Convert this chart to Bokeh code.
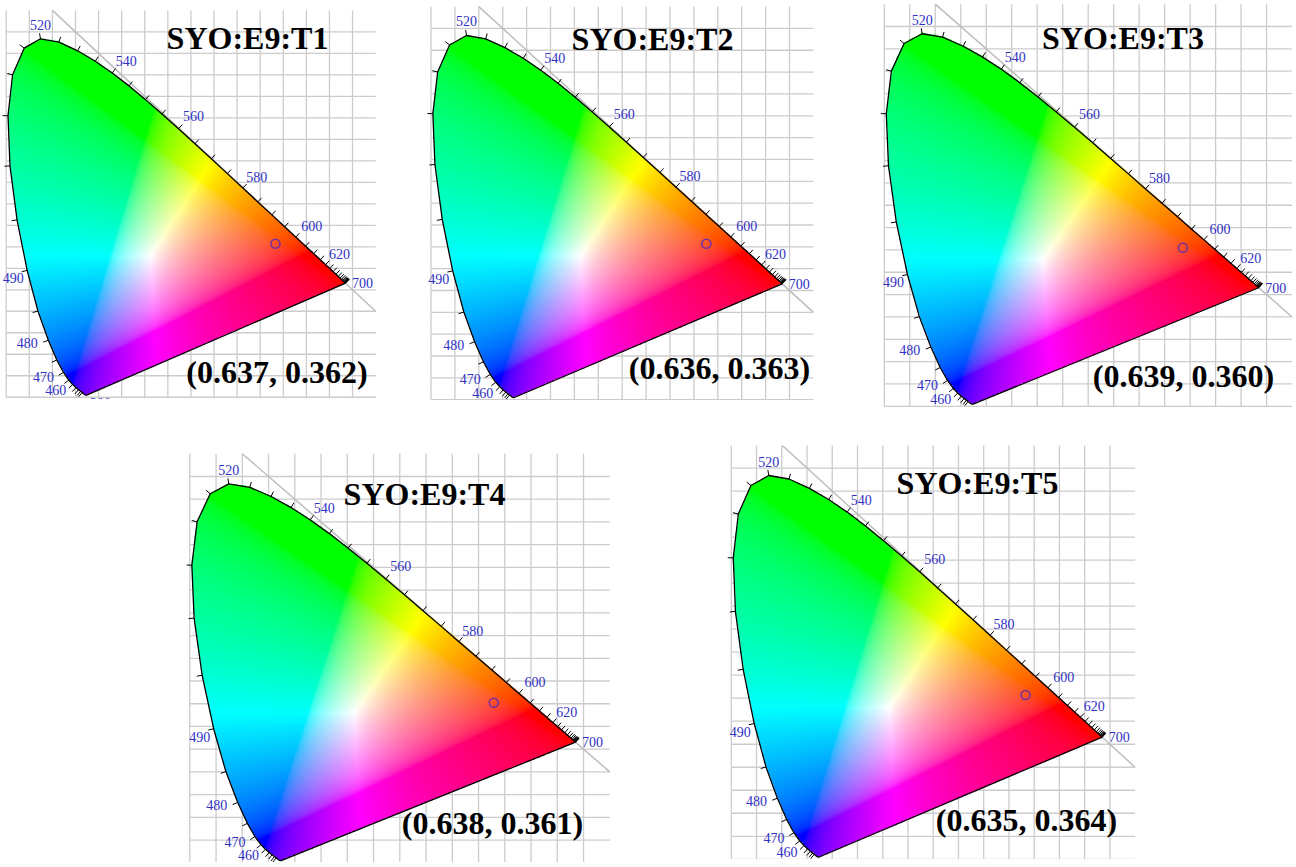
import numpy as np
from bokeh.plotting import figure
from bokeh.layouts import row, column
from bokeh.models import Spacer, Range1d, ColumnDataSource, Label
from bokeh.embed import file_html
from bokeh.resources import INLINE
from bokeh.core.properties import value

# ---------------- data ----------------
# CIE 1931 2-degree spectral locus, 380-700 nm every 5 nm
wavelengths = list(range(380, 705, 5))
locus_x = [0.1741, 0.1740, 0.1738, 0.1736, 0.1733, 0.1730, 0.1726, 0.1721, 0.1714, 0.1703,
           0.1689, 0.1669, 0.1644, 0.1611, 0.1566, 0.1510, 0.1440, 0.1355, 0.1241, 0.1096,
           0.0913, 0.0687, 0.0454, 0.0235, 0.0082, 0.0039, 0.0139, 0.0389, 0.0743, 0.1142,
           0.1547, 0.1929, 0.2296, 0.2658, 0.3016, 0.3373, 0.3731, 0.4087, 0.4441, 0.4788,
           0.5125, 0.5448, 0.5752, 0.6029, 0.6270, 0.6482, 0.6658, 0.6801, 0.6915, 0.7006,
           0.7079, 0.7140, 0.7190, 0.7230, 0.7260, 0.7283, 0.7300, 0.7311, 0.7320, 0.7327,
           0.7334, 0.7340, 0.7344, 0.7346, 0.7347]
locus_y = [0.0050, 0.0050, 0.0049, 0.0049, 0.0048, 0.0048, 0.0048, 0.0048, 0.0051, 0.0058,
           0.0069, 0.0086, 0.0109, 0.0138, 0.0177, 0.0227, 0.0297, 0.0399, 0.0578, 0.0868,
           0.1327, 0.2007, 0.2950, 0.4127, 0.5384, 0.6548, 0.7502, 0.8120, 0.8338, 0.8262,
           0.8059, 0.7816, 0.7543, 0.7243, 0.6923, 0.6589, 0.6245, 0.5896, 0.5547, 0.5202,
           0.4866, 0.4544, 0.4242, 0.3965, 0.3725, 0.3514, 0.3340, 0.3197, 0.3083, 0.2993,
           0.2920, 0.2859, 0.2809, 0.2770, 0.2740, 0.2717, 0.2700, 0.2689, 0.2680, 0.2673,
           0.2666, 0.2660, 0.2656, 0.2654, 0.2653]

titles = ["SYO:E9:T1", "SYO:E9:T2", "SYO:E9:T3", "SYO:E9:T4", "SYO:E9:T5"]
coord_texts = ["(0.637, 0.362)", "(0.636, 0.363)", "(0.639, 0.360)", "(0.638, 0.361)", "(0.635, 0.364)"]
# marker positions as drawn in the picture
point_x = [0.583, 0.576, 0.586, 0.579, 0.583]
point_y = [0.357, 0.357, 0.355, 0.352, 0.357]

label_wl = [380, 460, 470, 480, 490, 520, 540, 560, 580, 600, 620, 700]
tick_wl = list(range(440, 705, 5))
grid_x = [round(0.05 * i, 2) for i in range(16)]   # 0 .. 0.75
grid_y = [round(0.05 * i, 2) for i in range(18)]   # 0 .. 0.85
diag_x = [0.1, 0.8]                                 # x + y = 1 line

# ---------------- style / layout ----------------
label_off = {380: (14, 8), 460: (-17, 6), 470: (-20, 5), 480: (-21, 3), 490: (-14, 8),
             520: (0, -14), 540: (14, -12), 560: (15, -13), 580: (14, -11), 600: (16, -11),
             620: (14, -11), 700: (17, 0)}
# page-pixel mapping of each panel: x0, sx, y0, sy and box L, T, W, H
panels = [
    dict(x0=5.7, sx=461.8, y0=396.75, sy=429.9, L=0, T=0, W=378, H=399,
         title=(247, 37.5), coord=(276.5, 371)),
    dict(x0=430.5, sx=478.0, y0=399.2, sy=436.8, L=426, T=0, W=390, H=400,
         title=(652, 38), coord=(719, 367)),
    dict(x0=883.8, sx=509.7, y0=405.8, sy=446.8, L=880, T=0, W=412, H=407,
         title=(1122.5, 37), coord=(1183, 375.5)),
    dict(x0=189.3, sx=525.0, y0=862.3, sy=454.5, L=186, T=445, W=426, H=417,
         title=(424, 493), coord=(492, 822)),
    dict(x0=730.8, sx=504.8, y0=858.8, sy=460.3, L=726, T=445, W=412, H=414,
         title=(977, 482), coord=(1026, 819)),
]

# ---------------- chromaticity image ----------------
lx = np.array(locus_x)
ly = np.array(locus_y)
IMG_W, IMG_H = 0.75, 0.85
nx, ny = 520, 590
cx = (np.arange(nx) + 0.5) * IMG_W / nx
cy = (np.arange(ny) + 0.5) * IMG_H / ny
PX, PY = np.meshgrid(cx, cy)

def inside(px, py, vx, vy):
    res = np.zeros(px.shape, bool)
    n = len(vx)
    j = n - 1
    for i in range(n):
        xi, yi, xj, yj = vx[i], vy[i], vx[j], vy[j]
        if yi != yj:
            cond = (yi > py) != (yj > py)
            xint = (xj - xi) * (py - yi) / (yj - yi) + xi
            res ^= cond & (px < xint)
        j = i
    return res

mask = inside(PX, PY, lx, ly)
Yd = np.where(PY > 1e-6, PY, 1e-6)
Xc = PX / Yd
Zc = (1 - PX - PY) / Yd
R = 3.2406 * Xc - 1.5372 - 0.4986 * Zc
G = -0.9689 * Xc + 1.8758 + 0.0415 * Zc
B = 0.0557 * Xc - 0.2040 + 1.0570 * Zc
rgb = np.clip(np.stack([R, G, B], -1), 0, None)
mx = rgb.max(-1, keepdims=True)
mx[mx == 0] = 1
rgb = rgb / mx
rgb = np.where(rgb <= 0.0031308, 12.92 * rgb, 1.055 * np.power(rgb, 1 / 2.4) - 0.055)
rgb8 = np.clip(rgb * 255 + 0.5, 0, 255).astype(np.uint8)
img = np.zeros((ny, nx), dtype=np.uint32)
view = img.view(dtype=np.uint8).reshape((ny, nx, 4))
view[..., 0] = rgb8[..., 0]
view[..., 1] = rgb8[..., 1]
view[..., 2] = rgb8[..., 2]
view[..., 3] = np.where(mask, 255, 0)
img_src = ColumnDataSource(dict(image=[img], x=[0.0], y=[0.0], dw=[IMG_W], dh=[IMG_H]))

SERIF = value("Liberation Serif")
TICK_LEN = 5.5

def make_panel(k):
    c = panels[k]
    sx, sy = c["sx"], c["sy"]
    xr = Range1d((c["L"] - c["x0"]) / sx, (c["L"] + c["W"] - c["x0"]) / sx)
    yr = Range1d((c["y0"] - (c["T"] + c["H"])) / sy, (c["y0"] - c["T"]) / sy)
    p = figure(width=c["W"], height=c["H"], x_range=xr, y_range=yr,
               output_backend="svg", toolbar_location=None, min_border=0,
               x_axis_type=None, y_axis_type=None, outline_line_color=None,
               background_fill_color="white", border_fill_color="white")
    p.grid.visible = False

    # grid
    p.segment(x0=grid_x, y0=[0.0] * len(grid_x), x1=grid_x, y1=[0.9] * len(grid_x),
              line_color="#cccccc", line_width=1.3)
    p.segment(x0=[0.0] * len(grid_y), y0=grid_y, x1=[0.8] * len(grid_y), y1=grid_y,
              line_color="#cccccc", line_width=1.3)
    # x + y = 1 line
    p.line(diag_x, [1 - v for v in diag_x], line_color="#bdbdbd", line_width=1.5)

    # colour fill
    p.image_rgba(image="image", x="x", y="y", dw="dw", dh="dh", source=img_src)

    # outline
    p.line(locus_x + [locus_x[0]], locus_y + [locus_y[0]], line_color="black", line_width=1.3)

    # ticks
    x0s, y0s, x1s, y1s = [], [], [], []
    n = len(wavelengths)
    for w in tick_wl:
        i = wavelengths.index(w)
        a, b = max(i - 1, 0), min(i + 1, n - 1)
        tx = (locus_x[b] - locus_x[a]) * sx
        ty = (locus_y[b] - locus_y[a]) * sy
        nrm = (tx * tx + ty * ty) ** 0.5 or 1.0
        nxp, nyp = -ty / nrm, tx / nrm
        x0s.append(locus_x[i]); y0s.append(locus_y[i])
        x1s.append(locus_x[i] + nxp * TICK_LEN / sx)
        y1s.append(locus_y[i] + nyp * TICK_LEN / sy)
    p.segment(x0=x0s, y0=y0s, x1=x1s, y1=y1s, line_color="black", line_width=1)

    # wavelength labels
    tx_, ty_, tt_ = [], [], []
    for w in label_wl:
        i = wavelengths.index(w)
        dx, dy = label_off[w]
        tx_.append(locus_x[i] + dx / sx)
        ty_.append(locus_y[i] - dy / sy)
        tt_.append(str(w))
    p.text(x=tx_, y=ty_, text=tt_, text_font=SERIF, text_font_size="14px",
           text_color="#3030c4", text_align="center", text_baseline="middle")

    # measured point
    p.scatter(x=[point_x[k]], y=[point_y[k]], marker="circle", size=9,
              fill_color=None, line_color="#74309c", line_width=1.6)

    # title and coordinates
    for txt, (px_, py_) in ((titles[k], c["title"]), (coord_texts[k], c["coord"])):
        p.add_layout(Label(x=(px_ - c["x0"]) / sx, y=(c["y0"] - py_) / sy, text=txt,
                           text_font="Liberation Serif", text_font_style="bold",
                           text_font_size="32px", text_color="black",
                           text_align="center", text_baseline="middle"))
    return p

figs = [make_panel(k) for k in range(5)]

top = row(figs[0], Spacer(width=48, height=10), figs[1], Spacer(width=64, height=10), figs[2])
bottom = row(Spacer(width=186, height=10), figs[3], Spacer(width=114, height=10), figs[4])
layout = column(top, Spacer(width=10, height=38), bottom)

open("out.html", "w").write(file_html(layout, INLINE))
